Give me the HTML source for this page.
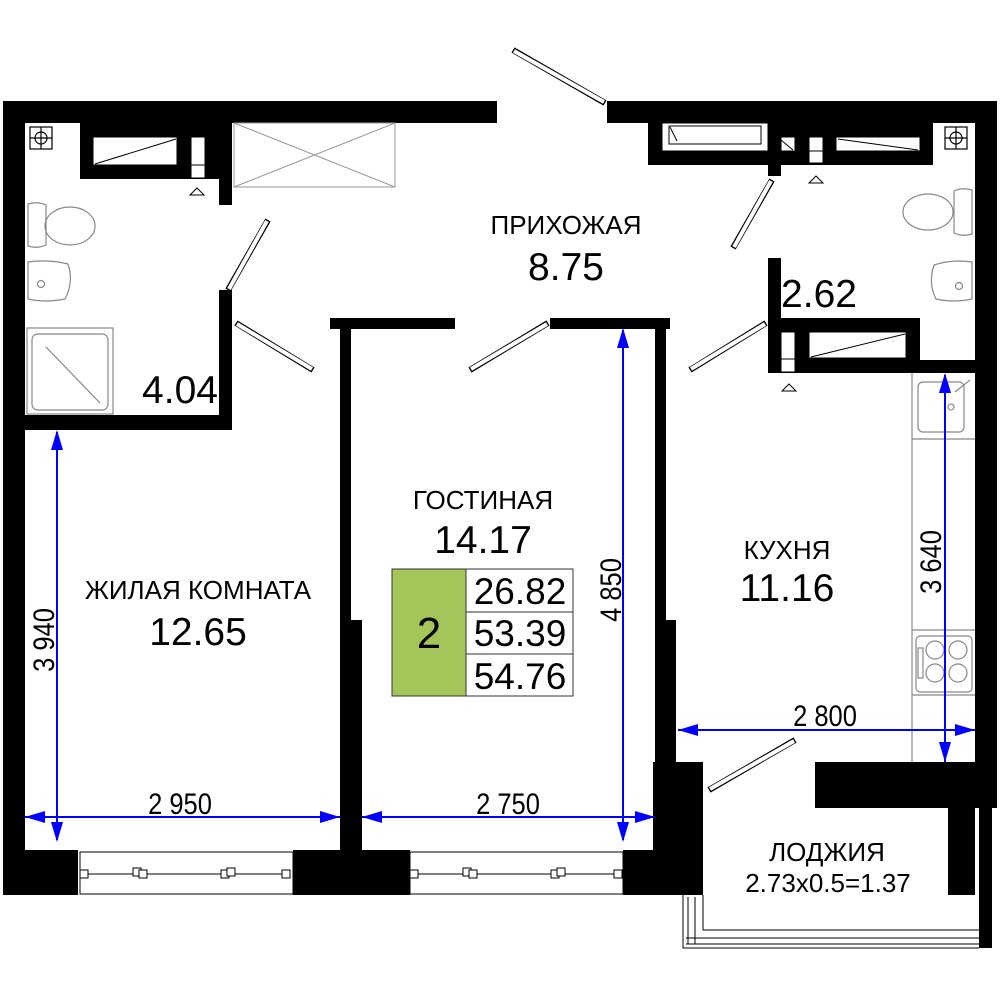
<!DOCTYPE html>
<html><head><meta charset="utf-8"><style>
html,body{margin:0;padding:0;background:#fff}
svg{display:block}
text{font-family:"Liberation Sans",sans-serif}
</style></head><body>
<svg width="1000" height="1000" viewBox="0 0 1000 1000" xmlns="http://www.w3.org/2000/svg">
<g fill="#000">
<rect x="3" y="101" width="494" height="22"/>
<rect x="607" y="101" width="390" height="22"/>
<rect x="648" y="123" width="285" height="42"/>
<rect x="3" y="101" width="22" height="794"/>
<rect x="975" y="101" width="22" height="707"/>
<rect x="80" y="123" width="152" height="56"/>
<rect x="219" y="123" width="13" height="82"/>
<rect x="219" y="290" width="13" height="140"/>
<rect x="25" y="415" width="207" height="15"/>
<rect x="768" y="165" width="13" height="11"/>
<rect x="768" y="258" width="13" height="115"/>
<rect x="768" y="318" width="152" height="42"/>
<rect x="768" y="360" width="207" height="13"/>
<rect x="330" y="318" width="125" height="11"/>
<rect x="340" y="318" width="11" height="532"/>
<rect x="340" y="620" width="22" height="230"/>
<rect x="550" y="318" width="120" height="11"/>
<rect x="655" y="318" width="11" height="532"/>
<rect x="655" y="620" width="21" height="142"/>
<rect x="3" y="850" width="75" height="45"/>
<rect x="293" y="850" width="117" height="45"/>
<rect x="623" y="850" width="80" height="45"/>
<rect x="653" y="762" width="50" height="133"/>
<rect x="815" y="762" width="182" height="46"/>
<rect x="948" y="808" width="27" height="87"/>
<rect x="979" y="808" width="13" height="140"/>
</g>
<g fill="#fff" stroke="#000" stroke-width="1">
<rect x="93" y="137" width="84" height="28"/>
<rect x="191" y="137" width="14" height="41"/>
<rect x="662" y="123" width="106" height="28"/>
<rect x="781" y="137" width="14" height="14"/>
<rect x="809" y="137" width="14" height="26"/>
<rect x="836" y="137" width="84" height="14"/>
<rect x="809" y="332" width="97" height="26"/>
<rect x="781" y="332" width="14" height="40"/>
</g>
<g stroke="#000" stroke-width="1" fill="none">
<line x1="95" y1="164" x2="176" y2="139"/>
<line x1="191" y1="165" x2="205" y2="165"/>
<rect x="669" y="126" width="92" height="18"/>
<line x1="670" y1="127" x2="677" y2="141"/>
<line x1="838" y1="139" x2="918" y2="150"/>
<line x1="781" y1="140" x2="793" y2="150"/>
<line x1="809" y1="151" x2="823" y2="151"/>
<line x1="811" y1="357" x2="905" y2="334"/>
<line x1="781" y1="359" x2="795" y2="359"/>
<path d="M190,195 l7,-7 l7,7z"/>
<path d="M809,183 l7,-7 l7,7z"/>
<path d="M782,391 l7,-7 l7,7z"/>
</g>
<g stroke="#999" stroke-width="1" fill="none">
<rect x="234" y="123" width="161" height="64"/>
<line x1="234" y1="123" x2="395" y2="187"/>
<line x1="395" y1="123" x2="234" y2="187"/>
</g>
<g stroke="#888" stroke-width="1.2" fill="none">
<rect x="30" y="127" width="22" height="22" stroke="#000"/>
<circle cx="41" cy="138" r="6" stroke="#000"/><line x1="30" y1="138" x2="52" y2="138" stroke="#000"/><line x1="41" y1="127" x2="41" y2="149" stroke="#000"/>
<rect x="945" y="127" width="22" height="22" stroke="#000"/>
<circle cx="956" cy="138" r="6" stroke="#000"/><line x1="945" y1="138" x2="967" y2="138" stroke="#000"/><line x1="956" y1="127" x2="956" y2="149" stroke="#000"/>
<path d="M28,204 q10,-3 18,1 v40 q-8,4 -18,1z"/><ellipse cx="70" cy="226" rx="25" ry="19"/>
<path d="M28,262 q20,-3 40,2 q6,18 -3,35 q-20,4 -37,0z"/><circle cx="41" cy="284" r="3.5"/>
<rect x="27" y="328" width="86" height="86"/><rect x="32" y="334" width="76" height="76" rx="6"/><line x1="46" y1="347" x2="100" y2="403"/>
<path d="M972,190 q-10,-3 -18,1 v42 q8,4 18,1z"/><ellipse cx="928" cy="212" rx="25" ry="18"/>
<path d="M972,262 q-20,-3 -38,3 q-6,18 2,34 q18,4 36,0z"/><circle cx="959" cy="286" r="3.5"/>
<line x1="912" y1="373" x2="912" y2="762"/>
<line x1="912" y1="439" x2="975" y2="439"/><line x1="912" y1="630" x2="975" y2="630"/><line x1="912" y1="695" x2="975" y2="695"/>
<rect x="918" y="382" width="46" height="50" rx="5"/><circle cx="951" cy="407" r="3"/><line x1="955" y1="392" x2="970" y2="380"/>
<rect x="916" y="636" width="56" height="56" rx="4"/>
<circle cx="935" cy="650" r="9"/><circle cx="958" cy="650" r="9"/><circle cx="935" cy="673" r="9"/><circle cx="958" cy="673" r="9"/>
<rect x="918" y="648" width="5" height="30"/>
</g>
<g fill="#fff" stroke="#000" stroke-width="1">
<rect x="80" y="852" width="213" height="42"/>
<rect x="410" y="852" width="213" height="42"/>
<line x1="82" y1="874" x2="290" y2="874"/><line x1="412" y1="874" x2="620" y2="874"/>
<rect x="80" y="870" width="8" height="8"/><rect x="133" y="868" width="8" height="8"/><rect x="139" y="870" width="8" height="8"/><rect x="221" y="870" width="8" height="8"/><rect x="227" y="868" width="8" height="8"/><rect x="282" y="870" width="8" height="8"/>
<rect x="410" y="870" width="8" height="8"/><rect x="463" y="868" width="8" height="8"/><rect x="469" y="870" width="8" height="8"/><rect x="551" y="870" width="8" height="8"/><rect x="557" y="868" width="8" height="8"/><rect x="614" y="870" width="8" height="8"/>
</g>
<g fill="none" stroke="#000" stroke-width="1">
<path d="M683,895 V948 H979"/>
<path d="M703,895 V930 H979"/>
<line x1="688" y1="897" x2="688" y2="944"/><line x1="695" y1="897" x2="695" y2="944"/>
<line x1="686" y1="938" x2="979" y2="938"/><line x1="686" y1="944" x2="979" y2="944"/>
<line x1="677" y1="808" x2="677" y2="870"/><line x1="973" y1="808" x2="973" y2="870"/>
</g>
<g stroke="#000" stroke-width="6" stroke-linecap="butt">
<line x1="605" y1="103" x2="513" y2="50"/>
<line x1="228" y1="290" x2="268" y2="220"/>
<line x1="236" y1="323" x2="313" y2="370"/>
<line x1="548" y1="323" x2="470" y2="370"/>
<line x1="772" y1="180" x2="733" y2="248"/>
<line x1="766" y1="323" x2="690" y2="370"/>
<line x1="709" y1="790" x2="795" y2="740"/>
</g>
<g stroke="#fff" stroke-width="4">
<line x1="604" y1="102" x2="514" y2="51"/>
<line x1="229" y1="289" x2="267" y2="221"/>
<line x1="237" y1="324" x2="312" y2="369"/>
<line x1="547" y1="324" x2="471" y2="369"/>
<line x1="771" y1="181" x2="734" y2="247"/>
<line x1="765" y1="324" x2="691" y2="369"/>
<line x1="710" y1="789" x2="794" y2="741"/>
</g>
<g stroke="#0000ff" stroke-width="2" fill="none">
<line x1="57" y1="432" x2="57" y2="840"/>
<line x1="25" y1="817" x2="340" y2="817"/>
<line x1="362" y1="817" x2="655" y2="817"/>
<line x1="623" y1="330" x2="623" y2="840"/>
<line x1="678" y1="730" x2="975" y2="730"/>
<line x1="945" y1="375" x2="945" y2="762"/>
</g>
<g fill="#0000ff">
<path d="M57,430 l-6,20 h12z"/><path d="M57,842 l-6,-20 h12z"/>
<path d="M25,817 l20,-6 v12z"/><path d="M340,817 l-20,-6 v12z"/>
<path d="M362,817 l20,-6 v12z"/><path d="M655,817 l-20,-6 v12z"/>
<path d="M623,328 l-6,20 h12z"/><path d="M623,842 l-6,-20 h12z"/>
<path d="M678,730 l20,-6 v12z"/><path d="M975,730 l-20,-6 v12z"/>
<path d="M945,373 l-6,20 h12z"/><path d="M945,762 l-6,-20 h12z"/>
</g>
<rect x="392" y="569" width="74" height="127" fill="#a3c55a" stroke="#333" stroke-width="1"/>
<g fill="#fff" stroke="#333" stroke-width="1">
<rect x="466" y="569" width="107" height="43"/><rect x="466" y="612" width="107" height="42"/><rect x="466" y="654" width="107" height="42"/>
</g>
<g fill="#000" text-anchor="middle">
<text x="429" y="648" font-size="44">2</text>
<text x="520" y="604" font-size="37">26.82</text>
<text x="520" y="646" font-size="37">53.39</text>
<text x="520" y="689" font-size="37">54.76</text>
<text x="566" y="234" font-size="26">ПРИХОЖАЯ</text>
<text x="566" y="280" font-size="39">8.75</text>
<text x="198" y="599" font-size="26">ЖИЛАЯ КОМНАТА</text>
<text x="198" y="645" font-size="39">12.65</text>
<text x="483" y="509" font-size="26">ГОСТИНАЯ</text>
<text x="483" y="553" font-size="39">14.17</text>
<text x="787" y="559" font-size="26">КУХНЯ</text>
<text x="787" y="601" font-size="39">11.16</text>
<text x="180" y="403" font-size="39">4.04</text>
<text x="819" y="307" font-size="39">2.62</text>
<text x="827" y="861" font-size="26">ЛОДЖИЯ</text>
<text x="828" y="892" font-size="26">2.73x0.5=1.37</text>
<g font-size="30">
<text transform="translate(180,814) scale(0.85,1)">2 950</text>
<text transform="translate(508,814) scale(0.85,1)">2 750</text>
<text transform="translate(825,726) scale(0.85,1)">2 800</text>
<text transform="translate(54,640) rotate(-90) scale(0.85,1)">3 940</text>
<text transform="translate(621,590) rotate(-90) scale(0.85,1)">4 850</text>
<text transform="translate(941,562) rotate(-90) scale(0.85,1)">3 640</text>
</g>
</g>
</svg>
</body></html>
